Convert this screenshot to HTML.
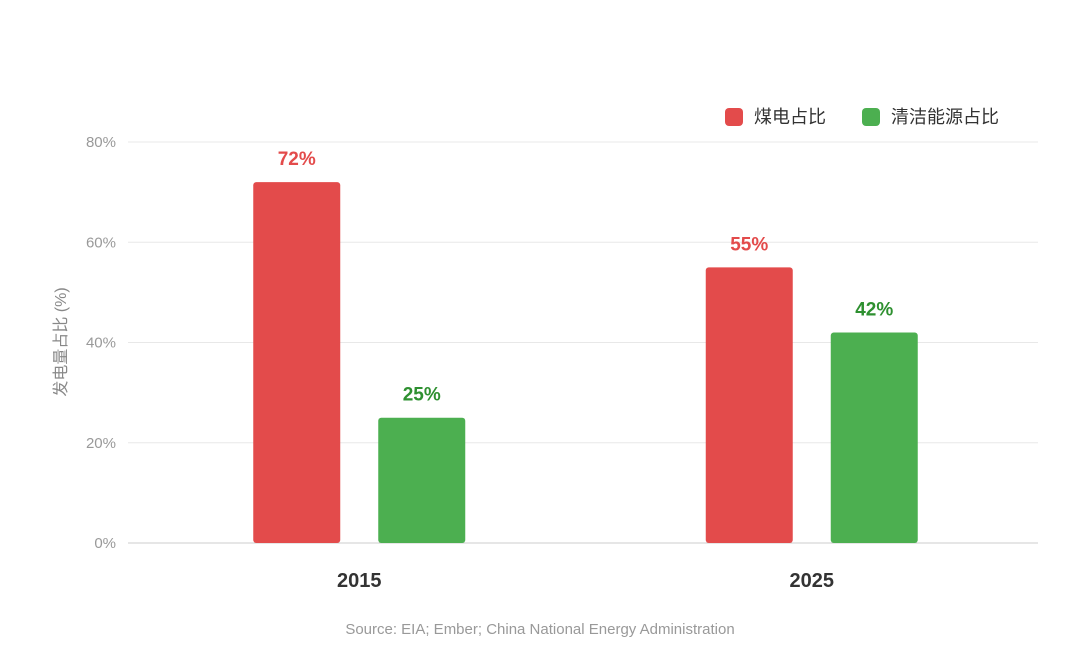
<!DOCTYPE html>
<html><head><meta charset="utf-8"><style>
body{margin:0;background:#fff;}
svg{display:block;font-family:"Liberation Sans","Noto Sans CJK SC",sans-serif;}
</style></head><body>
<svg id="chart" width="1080" height="669">
<g id="grid"></g>
<g id="yticks"></g>
<g id="bars"></g>
<g id="xticks"></g>
<text x="66" y="342" transform="rotate(-90 66 342)" text-anchor="middle" font-size="16" fill="#888">发电量占比 (%)</text>
<g>
<g><rect x="725" y="108" width="18" height="18" rx="4" fill="#e34b4b"/><text x="754" y="123" font-size="18" fill="#333">煤电占比</text></g>
<g><rect x="862" y="108" width="18" height="18" rx="4" fill="#4caf50"/><text x="891" y="123" font-size="18" fill="#333">清洁能源占比</text></g>
</g>
<text x="540" y="634" text-anchor="middle" font-size="15" fill="#999">Source: EIA; Ember; China National Energy Administration</text>
</svg>
<script>
const categories=["2015","2025"];
const coalValues=[72,55];
const cleanValues=[25,42];
const yTicks=[0,20,40,60,80];
const NS="http://www.w3.org/2000/svg";
const x0=128,x1=1038,bx0=133,bx1=1038,yBase=543,yTop=142,yMax=80;
const y=v=>yBase-(v/yMax)*(yBase-yTop);
const band=(bx1-bx0)/categories.length;
const cx=i=>bx0+band*(i+0.5);
function mk(tag,attrs,parent,text){const e=document.createElementNS(NS,tag);for(const k in attrs)e.setAttribute(k,attrs[k]);if(text!==undefined)e.textContent=text;parent.appendChild(e);return e;}
const grid=document.getElementById('grid'),yt=document.getElementById('yticks'),bars=document.getElementById('bars'),xt=document.getElementById('xticks');
yTicks.forEach(t=>{
 const l=mk('line',{x1:x0,x2:x1,y1:y(t),y2:y(t),stroke:t===0?'#ccc':'#e8e8e8','stroke-width':1},grid);
 
 
 const tx=mk('text',{x:116,y:y(t)+5,'text-anchor':'end','font-size':15,fill:'#999'},yt,t+'%');
 
 
});
const bw=87,gap=38;
categories.forEach((c,i)=>{
 const series=[[coalValues[i],'#e34b4b','#e34b4b','coal'],[cleanValues[i],'#4caf50','#2e9030','clean']];
 series.forEach((s,j)=>{
  const bx=cx(i)-bw-gap/2+j*(bw+gap);
  const r=mk('rect',{x:bx,y:y(s[0]),width:bw,height:yBase-y(s[0]),rx:3,fill:s[1]},bars);
  
  
  const lb=mk('text',{x:bx+bw/2,y:y(s[0])-17,'text-anchor':'middle','font-size':19,'font-weight':'bold',fill:s[2]},bars,s[0]+'%');
  
  
 });
 const t=mk('text',{x:cx(i),y:587,'text-anchor':'middle','font-size':20,'font-weight':'bold',fill:'#333'},xt,c);
 
 
});
</script>
</body></html>
